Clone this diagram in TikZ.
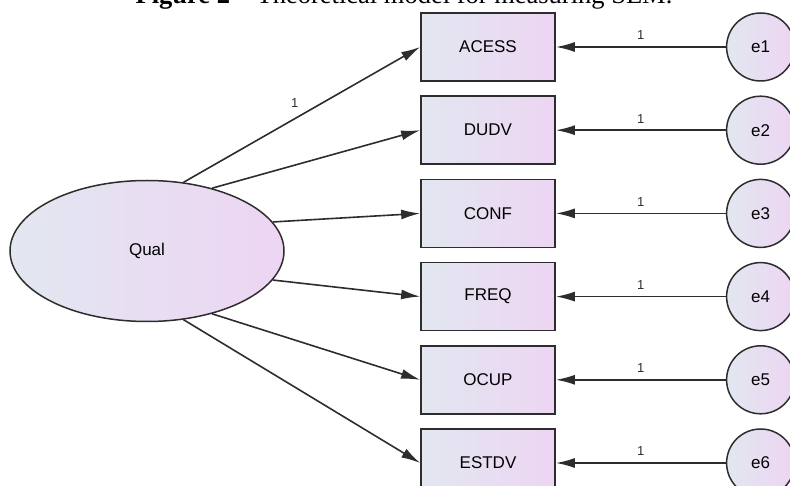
\documentclass[tikz,border=0pt]{standalone}
\usepackage{fontspec}
\setmainfont{Liberation Serif}
\setsansfont{Liberation Sans}
\usepackage{xcolor}
\usepackage{tikz}
\usetikzlibrary{positioning,arrows.meta,shapes.geometric}

\definecolor{linec}{RGB}{45,45,45}
\definecolor{fillL}{RGB}{226,231,240}
\definecolor{fillR}{RGB}{237,213,243}

\begin{document}
\begin{tikzpicture}[
  x=1pt,y=-1pt,
  node distance=13.5pt and 170pt,
  obs/.style={draw=linec,line width=1.7pt,left color=fillL,right color=fillR,minimum width=134pt,minimum height=68pt,inner sep=0pt,font=\sffamily\fontsize{17}{20}\selectfont},
  latent/.style={ellipse,draw=linec,line width=1.5pt,left color=fillL,right color=fillR,minimum width=274pt,minimum height=141pt,inner sep=0pt,font=\sffamily\fontsize{17}{20}\selectfont},
  err/.style={circle,draw=linec,line width=1.5pt,left color=fillL,right color=fillR,minimum size=68pt,inner sep=0pt,font=\sffamily\fontsize{17}{20}\selectfont},
  arr/.style={-{Latex[length=19pt,width=10pt]},line width=1.6pt,linec},
  wt/.style={font=\sffamily\fontsize{13}{15}\selectfont,text=linec}
]
\useasboundingbox (0,0) rectangle (790,486);

\node[anchor=base,font=\fontsize{26.5}{30}\selectfont] (title) at (404,3.5) {\textbf{Figure 2} -- Theoretical model for measuring SEM.};

\node[latent] (qual) at (147,251) {Qual};

\node[obs] (acess) at (488,47) {ACESS};
\node[obs,below=of acess] (dudv) {DUDV};
\node[obs,below=of dudv] (conf) {CONF};
\node[obs,below=of conf] (freq) {FREQ};
\node[obs,below=of freq] (ocup) {OCUP};
\node[obs,below=of ocup] (estdv) {ESTDV};

\node[err,right=of acess] (e1) {e1};
\node[err,right=of dudv] (e2) {e2};
\node[err,right=of conf] (e3) {e3};
\node[err,right=of freq] (e4) {e4};
\node[err,right=of ocup] (e5) {e5};
\node[err,right=of estdv] (e6) {e6};

% loadings
\draw[arr] (qual.62) -- node[wt,pos=0.47,above=7pt]{1} (acess.west);
\draw[arr] (qual.44) -- (dudv.west);
\draw[arr] (qual.13.5) -- (conf.west);
\draw[arr] (qual.-13.5) -- (freq.west);
\draw[arr] (qual.-44) -- (ocup.west);
\draw[arr] (qual.-62) -- (estdv.west);

% error terms
\draw[arr] (e1) -- node[wt,above=3pt]{1} (acess);
\draw[arr] (e2) -- node[wt,above=3pt]{1} (dudv);
\draw[arr] (e3) -- node[wt,above=3pt]{1} (conf);
\draw[arr] (e4) -- node[wt,above=3pt]{1} (freq);
\draw[arr] (e5) -- node[wt,above=3pt]{1} (ocup);
\draw[arr] (e6) -- node[wt,above=3pt]{1} (estdv);
\end{tikzpicture}
\end{document}
